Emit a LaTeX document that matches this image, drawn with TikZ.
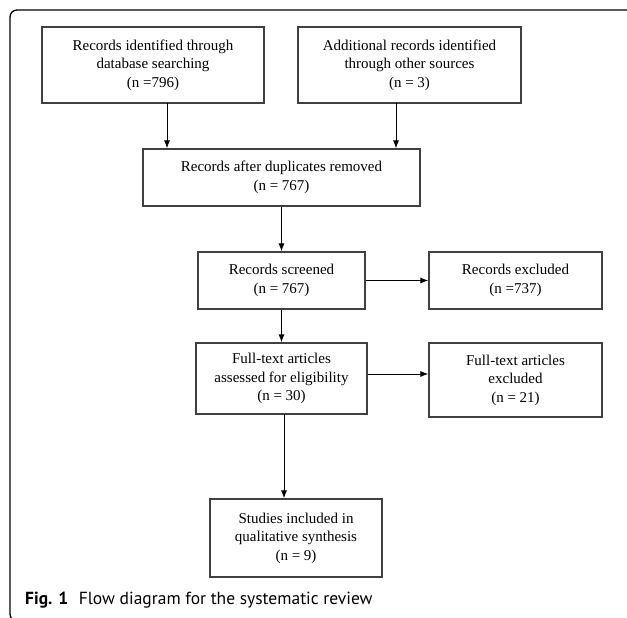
\documentclass[tikz,border=0pt]{standalone}
\usepackage{fontspec}
\setmainfont{Liberation Serif}
\newfontfamily\capfont{PT Sans}
\usetikzlibrary{arrows.meta}

\begin{document}
\begin{tikzpicture}
[x=1pt,y=-1pt,%
  box/.style={shape=rectangle,draw=black!75,line width=1.1pt,align=center,inner sep=2pt,%
    font=\fontsize{15}{18.5}\selectfont},%
  flow/.style={-{Latex[length=8pt,width=6pt]},line width=1pt}]
\useasboundingbox (0,0) rectangle (627,618);
% outer frame
\draw[line width=1.3pt,rounded corners=7pt] (640,10) -- (10,10) -- (10,621) -- (30,621);
% identification
\node[box,minimum width=222pt,minimum height=76pt] (ident) at (153,65)
  {Records identified through\\database searching\\(n =796)};
\node[box,minimum width=223pt,minimum height=76pt] (other) at (409.5,65)
  {Additional records identified\\through other sources\\(n = 3)};
\node[box,minimum width=277pt,minimum height=57pt] (dupl) at (281.5,177.5)
  {Records after duplicates removed\\(n = 767)};
% screening
\node[box,minimum width=167pt,minimum height=57pt] (screen) at (281.5,280.5)
  {Records screened\\(n = 767)};
\node[box,minimum width=173pt,minimum height=57pt] (excl) at (515.5,280.5)
  {Records excluded\\(n =737)};
% eligibility
\node[box,minimum width=171pt,minimum height=71pt] (full) at (281.5,378.5)
  {Full-text articles\\assessed for eligibility\\(n = 30)};
\node[box,minimum width=173pt,minimum height=74pt] (fullexcl) at (515.5,380)
  {Full-text articles\\excluded\\(n = 21)};
% included
\node[box,minimum width=172pt,minimum height=78pt] (incl) at (296,538)
  {Studies included in\\qualitative synthesis\\(n = 9)};
\node[anchor=base west,inner sep=0pt,font=\capfont\fontsize{17.5}{20}\selectfont] (cap) at (25,604)
  {\textbf{Fig. 1}\hspace{0.6em}Flow diagram for the systematic review};
% connectors
\coordinate (a1) at (167,103);
\coordinate (a2) at (396,103);
\coordinate (a3) at (284,414);
\draw[flow] (a1) -- (a1 |- dupl.north);
\draw[flow] (a2) -- (a2 |- dupl.north);
\draw[flow] (dupl) -- (screen);
\draw[flow] (screen) -- (excl);
\draw[flow] (screen) -- (full);
\draw[flow] (full.east |- 0,374) -- (fullexcl.west |- 0,374);
\draw[flow] (a3) -- (a3 |- incl.north);
\end{tikzpicture}
\end{document}
